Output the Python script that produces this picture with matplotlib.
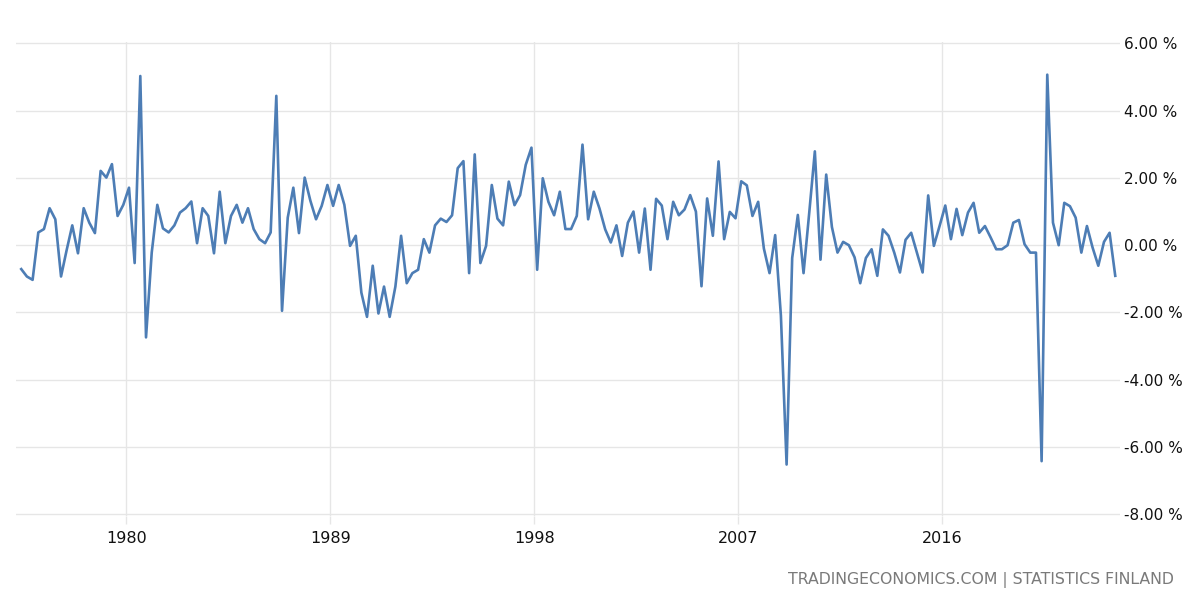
import matplotlib
matplotlib.use("Agg")
import matplotlib.pyplot as plt
from matplotlib.ticker import FuncFormatter, FixedLocator
import pandas as pd

# Finland GDP growth rate, quarter on quarter (%), 1975Q2 .. 2023Q3
start_quarter = "1975Q2"
gdp_growth = [
    -0.71, -0.93, -1.03, 0.38, 0.48, 1.10, 0.77, -0.93, -0.15, 0.59,
    -0.24, 1.10, 0.67, 0.36, 2.21, 2.01, 2.41, 0.87, 1.20, 1.71,
    -0.53, 5.03, -2.74, -0.22, 1.20, 0.50, 0.38, 0.59, 0.97, 1.10,
    1.30, 0.06, 1.10, 0.87, -0.24, 1.59, 0.06, 0.87, 1.20, 0.67,
    1.10, 0.48, 0.18, 0.06, 0.38, 4.44, -1.95, 0.82, 1.71, 0.36,
    2.01, 1.32, 0.77, 1.17, 1.79, 1.17, 1.79, 1.20, -0.02, 0.28,
    -1.41, -2.13, -0.61, -2.03, -1.23, -2.13, -1.23, 0.28, -1.13, -0.83,
    -0.73, 0.18, -0.22, 0.59, 0.79, 0.69, 0.89, 2.29, 2.50, -0.83,
    2.70, -0.53, -0.02, 1.79, 0.79, 0.59, 1.89, 1.19, 1.49, 2.39,
    2.90, -0.73, 1.99, 1.29, 0.89, 1.59, 0.48, 0.48, 0.87, 2.99,
    0.77, 1.59, 1.09, 0.47, 0.08, 0.59, -0.32, 0.67, 1.00, -0.22,
    1.09, -0.73, 1.38, 1.18, 0.18, 1.29, 0.89, 1.06, 1.49, 1.00,
    -1.22, 1.39, 0.28, 2.49, 0.18, 0.99, 0.80, 1.90, 1.78, 0.87,
    1.29, -0.10, -0.83, 0.30, -2.09, -6.52, -0.38, 0.90, -0.83, 0.97,
    2.79, -0.43, 2.10, 0.54, -0.22, 0.10, 0.00, -0.36, -1.13, -0.38,
    -0.12, -0.91, 0.47, 0.28, -0.22, -0.81, 0.16, 0.37, -0.22, -0.81,
    1.48, -0.02, 0.57, 1.18, 0.18, 1.08, 0.30, 0.97, 1.26, 0.37,
    0.57, 0.23, -0.12, -0.12, 0.00, 0.67, 0.75, 0.03, -0.22, -0.22,
    -6.42, 5.07, 0.67, 0.00, 1.26, 1.16, 0.82, -0.22, 0.57, -0.07,
    -0.61, 0.10, 0.37, -0.91,
]
x_tick_years = [1980, 1989, 1998, 2007, 2016]
y_ticks = [-8, -6, -4, -2, 0, 2, 4, 6]
source_text = "TRADINGECONOMICS.COM | STATISTICS FINLAND"

quarters = pd.period_range(start_quarter, periods=len(gdp_growth), freq="Q")
dates = quarters.to_timestamp(how="start") + pd.Timedelta(days=45)

fig = plt.figure(figsize=(12, 6), dpi=100)
ax = fig.add_axes([0.0133, 0.1400, 0.92, 0.7905])

grid_color = "#e6e6e6"
ax.plot(dates, gdp_growth, color="#4d7db5", linewidth=1.9, zorder=3)

ax.set_ylim(-8.05, 6.05)
ax.set_xlim(pd.Timestamp("1975-02-20"), pd.Timestamp("2023-10-30"))

ax.yaxis.set_major_locator(FixedLocator(y_ticks))
ax.yaxis.set_major_formatter(FuncFormatter(lambda v, p: f"{v:.2f} %"))
ax.yaxis.tick_right()
ax.tick_params(axis="y", length=0, pad=3, labelsize=11, labelcolor="#111111")

xt = [pd.Timestamp(f"{y}-01-01") for y in x_tick_years]
ax.set_xticks(xt)
ax.set_xticklabels([str(y) for y in x_tick_years])
ax.tick_params(axis="x", length=6, width=1, color=grid_color, pad=5,
               labelsize=11.5, labelcolor="#111111")

ax.grid(True, color=grid_color, linewidth=1)
ax.set_axisbelow(True)
for s in ax.spines.values():
    s.set_visible(False)

fig.text(1174 / 1200, 1 - 580 / 600, source_text, ha="right", va="center",
         fontsize=11.3, color="#7a7a7a")

fig.savefig("out.png", dpi=100, facecolor="white")
